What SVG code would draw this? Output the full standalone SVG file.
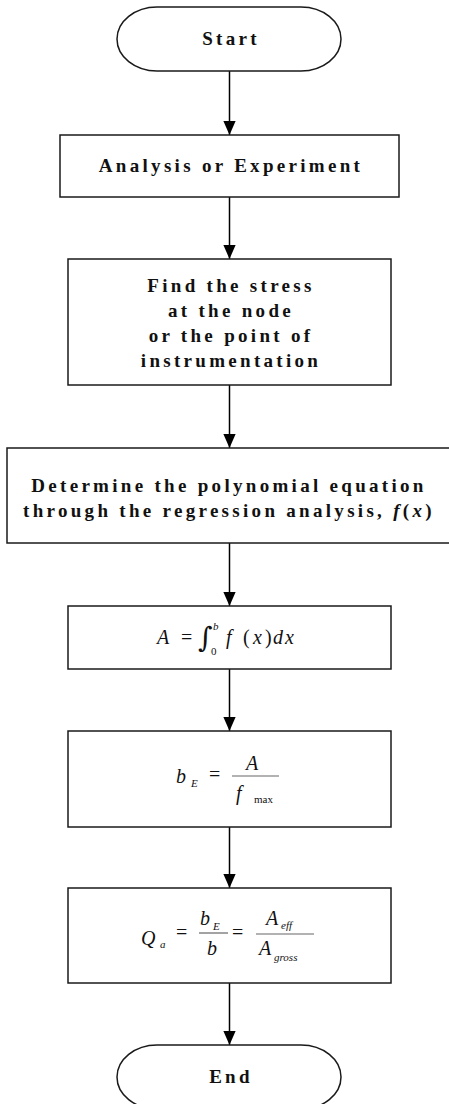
<svg xmlns="http://www.w3.org/2000/svg" width="449" height="1104" viewBox="0 0 449 1104">
<defs>
<marker id="ah" markerWidth="14" markerHeight="16" refX="16" refY="7" orient="auto" markerUnits="userSpaceOnUse" viewBox="0 0 16 14"><path d="M0,0 L16,7 L0,14 z" fill="#000"/></marker>
</defs>
<style>
.box{fill:#fff;stroke:#1a1a1a;stroke-width:1.5}
.t{font-family:"Liberation Serif","Times New Roman",serif;font-weight:bold;font-size:19px;letter-spacing:3.3px;fill:#111;text-anchor:middle}
.m{font-family:"Liberation Serif","Times New Roman",serif;font-style:italic;font-size:20px;fill:#111}
.u{font-style:normal}
.s{font-size:11px}
.c{stroke:#000;stroke-width:1.5;fill:none}
.bar{stroke:#666;stroke-width:1.2}
</style>
<g id="connectors">
<line class="c" x1="229.5" y1="71" x2="229.5" y2="135" marker-end="url(#ah)"/>
<line class="c" x1="229.5" y1="197" x2="229.5" y2="259" marker-end="url(#ah)"/>
<line class="c" x1="229.5" y1="385" x2="229.5" y2="448" marker-end="url(#ah)"/>
<line class="c" x1="229.5" y1="543" x2="229.5" y2="606" marker-end="url(#ah)"/>
<line class="c" x1="229.5" y1="669" x2="229.5" y2="731" marker-end="url(#ah)"/>
<line class="c" x1="229.5" y1="827" x2="229.5" y2="888" marker-end="url(#ah)"/>
<line class="c" x1="229.5" y1="983" x2="229.5" y2="1045" marker-end="url(#ah)"/>
</g>
<g id="start">
<rect class="box" x="117" y="7" width="224" height="64" rx="40" ry="32"/>
<text class="t" x="231" y="45">Start</text>
</g>
<g id="analysis">
<rect class="box" x="60" y="135" width="339" height="62"/>
<text class="t" x="231" y="172">Analysis or Experiment</text>
</g>
<g id="find">
<rect class="box" x="68" y="259" width="323" height="126"/>
<text class="t" x="231" y="292">Find the stress</text>
<text class="t" x="231" y="317">at the node</text>
<text class="t" x="231" y="342">or the point of</text>
<text class="t" x="231" y="367">instrumentation</text>
</g>
<g id="determine">
<rect class="box" x="7" y="448" width="452" height="95"/>
<text class="t" x="229" y="492">Determine the polynomial equation</text>
<text class="t" x="229" y="517">through the regression analysis, <tspan font-style="italic">f</tspan>(<tspan font-style="italic">x</tspan>)</text>
</g>
<g id="integral">
<rect class="box" x="68" y="606" width="323" height="63"/>
<text class="m" y="644"><tspan x="157">A</tspan><tspan class="u" x="181">=</tspan><tspan x="226">f</tspan><tspan class="u" x="243">(</tspan><tspan x="253">x</tspan><tspan class="u" x="265">)</tspan><tspan x="273">d</tspan><tspan x="285">x</tspan></text>
<text x="198" y="647" font-family="'DejaVu Serif',serif" font-size="28" fill="#111">∫</text>
<text class="m s" x="213" y="630">b</text>
<text class="m u s" x="211" y="655">0</text>
</g>
<g id="be">
<rect class="box" x="68" y="731" width="323" height="96"/>
<text class="m" x="176" y="783" font-size="25">b</text>
<text class="m s" x="191" y="787">E</text>
<text class="m u" x="209" y="781">=</text>
<line class="bar" x1="232" y1="776" x2="279" y2="776"/>
<text class="m" x="246" y="770">A</text>
<text class="m" x="236" y="800" font-size="22">f</text>
<text class="m u s" x="254" y="803">max</text>
</g>
<g id="qa">
<rect class="box" x="68" y="888" width="323" height="95"/>
<text class="m" x="141" y="945" font-size="21">Q</text>
<text class="m s" x="160" y="948">a</text>
<text class="m u" x="176" y="939">=</text>
<line class="bar" x1="199" y1="933" x2="228" y2="933"/>
<text class="m" x="200" y="925" font-size="21">b</text>
<text class="m s" x="213" y="930">E</text>
<text class="m" x="207" y="955" font-size="21">b</text>
<text class="m u" x="232" y="939">=</text>
<line class="bar" x1="256" y1="934" x2="314" y2="934"/>
<text class="m" x="266" y="925">A</text>
<text class="m s" x="281" y="929">eff</text>
<text class="m" x="259" y="955">A</text>
<text class="m s" x="274" y="961">gross</text>
</g>
<g id="end">
<rect class="box" x="117" y="1045" width="224" height="64" rx="40" ry="32"/>
<text class="t" x="231" y="1083">End</text>
</g>
</svg>
